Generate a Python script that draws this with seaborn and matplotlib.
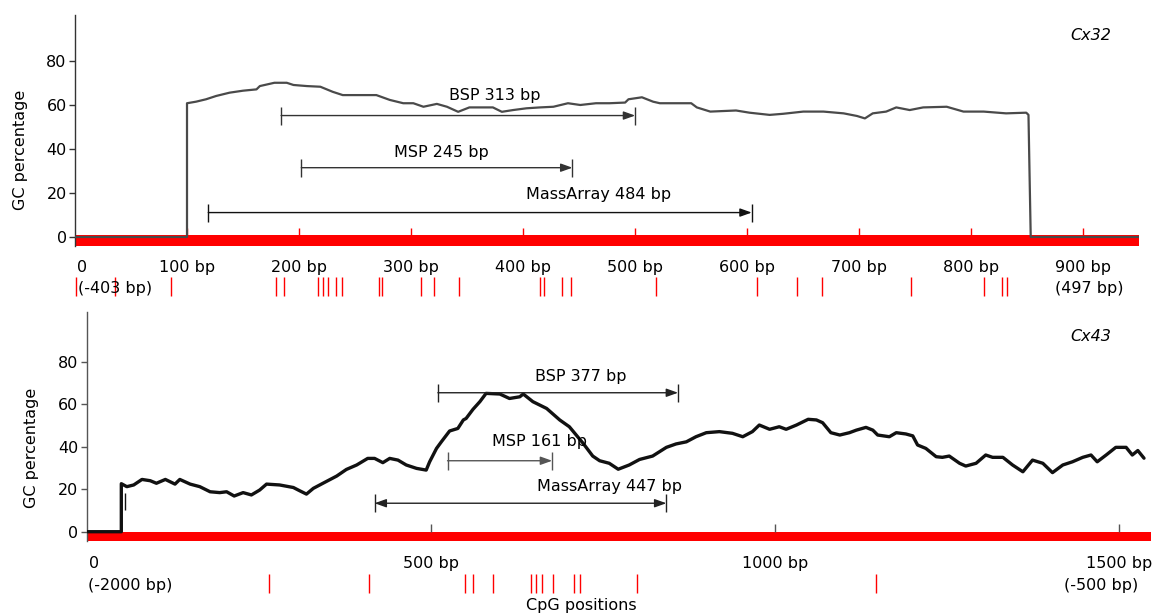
import numpy as np
import pandas as pd
import matplotlib
matplotlib.use("Agg")
import matplotlib.pyplot as plt
import seaborn as sns

# ---------------- data ----------------
# Cx32 GC percentage profile (position in bp, GC %)
cx32_bp = [0, 100, 100, 108, 117, 126, 138, 150, 162, 165, 178, 189, 195, 207, 219, 230,
           239, 257, 269, 281, 293, 302, 311, 323, 332, 342, 352, 373, 381, 391, 403, 415,
           427, 440, 451, 465, 477, 491, 494, 506, 516, 522, 550, 555, 567, 590, 602, 620,
           632, 650, 668, 686, 698, 705, 712, 724, 733, 745, 757, 778, 793, 811, 831, 849,
           851, 852, 853, 950]
cx32_gc = [0, 0, 60.8, 61.5, 62.6, 64.1, 65.6, 66.5, 67.1, 68.6, 70.1, 70.1, 69.1, 68.6, 68.3, 66.0,
           64.5, 64.5, 64.5, 62.3, 60.8, 60.8, 59.2, 60.5, 59.2, 56.9, 58.9, 58.9, 56.9, 57.7, 58.5, 58.9,
           59.2, 60.8, 60.0, 60.8, 60.8, 61.1, 62.6, 63.5, 61.5, 60.8, 60.8, 58.9, 57.0, 57.5, 56.5, 55.5,
           56.0, 57.0, 57.0, 56.2, 55.0, 53.9, 56.2, 57.0, 58.9, 57.7, 58.9, 59.2, 57.0, 57.0, 56.2, 56.5,
           55.5, 27.4, 0, 0]
cx32_cpg = [1, 36, 86, 179, 187, 217, 221, 226, 233, 238, 271, 274, 309, 320, 343,
            415, 419, 435, 443, 519, 609, 644, 667, 746, 811, 827, 832]
cx32_ticks = [100, 200, 300, 400, 500, 600, 700, 800, 900]
cx32_tick_labels = ["0", "100 bp", "200 bp", "300 bp", "400 bp", "500 bp",
                    "600 bp", "700 bp", "800 bp", "900 bp"]
cx32_ends = ["(-403 bp)", "(497 bp)"]
cx32_amp_names = ["BSP 313 bp", "MSP 245 bp", "MassArray 484 bp"]
cx32_amp_start = [184, 202, 119]
cx32_amp_end = [500, 444, 604]
cx32_amp_level = [55.2, 31.5, 11.1]

# Cx43 GC percentage profile
cx43_bp = [0, 50, 50, 58, 68, 80, 92, 101, 114, 128, 135, 150, 164, 179, 193, 203, 214, 227,
           239, 251, 261, 280, 300, 309, 319, 329, 343, 363, 377, 392, 408, 418, 430, 440, 452,
           464, 479, 493, 498, 508, 515, 527, 539, 547, 551, 561, 571, 580, 600, 614, 629, 634,
           648, 668, 687, 701, 721, 735, 745, 759, 772, 788, 803, 822, 842, 856, 871, 885, 900,
           919, 938, 953, 967, 977, 992, 1006, 1016, 1031, 1048, 1060, 1069, 1081, 1094, 1108,
           1118, 1132, 1142, 1149, 1166, 1176, 1190, 1200, 1207, 1219, 1234, 1243, 1253, 1268,
           1277, 1292, 1306, 1316, 1331, 1345, 1360, 1374, 1389, 1403, 1418, 1432, 1447, 1459,
           1468, 1481, 1495, 1510, 1519, 1527, 1536]
cx43_gc = [0, 0, 22.6, 21.2, 22.0, 24.6, 24.0, 22.8, 24.6, 22.4, 24.6, 22.4, 21.2, 18.8, 18.4, 18.8, 16.8, 18.4,
           17.3, 19.6, 22.4, 22.0, 20.8, 19.3, 17.7, 20.4, 22.8, 26.2, 29.3, 31.4, 34.5, 34.5, 32.5, 34.5, 33.7,
           31.4, 29.8, 29.0, 32.9, 39.2, 42.3, 47.4, 48.6, 52.6, 53.3, 57.6, 61.2, 65.1, 64.8, 62.7, 63.5, 64.8,
           61.2, 58.0, 52.6, 49.4, 41.6, 35.6, 33.4, 32.2, 29.4, 31.4, 34.0, 35.6, 39.7, 41.3, 42.3, 44.7, 46.6,
           47.1, 46.3, 44.7, 47.1, 50.2, 48.2, 49.4, 48.2, 50.2, 52.9, 52.6, 51.3, 46.6, 45.5, 46.6,
           47.8, 49.1, 47.8, 45.5, 44.7, 46.6, 46.0, 45.1, 40.8, 39.2, 35.3, 35.0, 35.6, 32.2,
           30.9, 32.2, 36.1, 35.0, 35.0, 31.4, 28.2, 33.7, 32.2, 27.8, 31.4, 32.9, 35.0, 36.1,
           32.9, 36.1, 39.7, 39.7, 36.1, 38.2, 34.6]
cx43_cpg = [264, 410, 550, 561, 590, 645, 652, 661, 677, 708, 716, 799, 1146]
cx43_mark = [55]
cx43_ticks = [500, 1000, 1500]
cx43_tick_labels = ["0", "500 bp", "1000 bp", "1500 bp"]
cx43_ends = ["(-2000 bp)", "(-500 bp)"]
cx43_amp_names = ["BSP 377 bp", "MSP 161 bp", "MassArray 447 bp"]
cx43_amp_start = [510, 524, 418]
cx43_amp_end = [859, 676, 842]
cx43_amp_level = [65.4, 33.4, 13.4]

# ---------------- style ----------------
sns.set_style("white")
plt.rcParams['font.family'] = ['DejaVu Sans']
plt.rcParams['text.color'] = 'black'
plt.rcParams['axes.labelcolor'] = 'black'
plt.rcParams['xtick.color'] = 'black'
plt.rcParams['ytick.color'] = 'black'
FS = 11.5

fig = plt.figure(figsize=(11.55, 6.14), dpi=100)
ax1 = fig.add_axes([0.0649, 0.5997, 0.9216, 0.3762])
ax2 = fig.add_axes([0.07524, 0.1188, 0.9212, 0.3734])


def base(ax, xlim, ylim, spine_color):
    ax.set_xlim(*xlim)
    ax.set_ylim(*ylim)
    for s in ["top", "right", "bottom"]:
        ax.spines[s].set_visible(False)
    ax.spines["left"].set_color(spine_color)
    ax.spines["left"].set_linewidth(1.0)
    ax.set_xticks([])
    ax.set_yticks([0, 20, 40, 60, 80])
    ax.tick_params(axis="y", length=4, width=1, color=spine_color, pad=2,
                   labelsize=FS, labelcolor="black", left=True)
    ax.set_xlabel("")


def amplicons(ax, starts, ends, levels, colors, styles):
    for s, e, lv, c, st in zip(starts, ends, levels, colors, styles):
        ax.annotate("", xy=(e, lv), xytext=(s, lv),
                    arrowprops=dict(arrowstyle=st + ",head_length=0.7,head_width=0.25",
                                    color=c, lw=1.0, shrinkA=0, shrinkB=0,
                                    mutation_scale=10))
        ax.plot([s, e], [lv, lv], ls="none", marker="|", ms=13.5, mew=1.0, color=c)


# ---------- top panel: Cx32 ----------
ax = ax1
base(ax, (0, 950), (-4, 101), "#333333")
ax.axhspan(-4, 0.9, color="#ff0000", lw=0, zorder=1)
ax.vlines(cx32_ticks, 0.9, 4.0, color="#ff0000", lw=1.0, zorder=1)
df32 = pd.DataFrame({"bp": cx32_bp, "gc": cx32_gc})
sns.lineplot(data=df32, x="bp", y="gc", ax=ax, estimator=None, sort=False,
             color="#4a4a4a", lw=1.6, zorder=3)
ax.set_xlabel("")
ax.set_ylabel("GC percentage", fontsize=FS, color="black")
ax.yaxis.set_label_coords(-0.0509, 0.415)
ax.yaxis.label.set_va("center")
amplicons(ax, cx32_amp_start, cx32_amp_end, cx32_amp_level,
          ["#333333", "#333333", "#111111"], ["-|>", "-|>", "-|>"])
ax.text(375, 64.5, cx32_amp_names[0], fontsize=FS, ha="center", va="center")
ax.text(327, 38.3, cx32_amp_names[1], fontsize=FS, ha="center", va="center")
ax.text(467, 19.3, cx32_amp_names[2], fontsize=FS, ha="center", va="center")
ax.text(907, 91.8, "Cx32", fontsize=FS, style="italic", ha="center", va="center")

tr = ax.get_xaxis_transform()
ax.text(1.5, -0.092, cx32_tick_labels[0], transform=tr, fontsize=FS, ha="left", va="center")
for t, lab in zip(cx32_ticks, cx32_tick_labels[1:]):
    ax.text(t, -0.092, lab, transform=tr, fontsize=FS, ha="center", va="center")
ax.text(3, -0.186, cx32_ends[0], transform=tr, fontsize=FS, ha="left", va="center")
ax.text(905, -0.186, cx32_ends[1], transform=tr, fontsize=FS, ha="center", va="center")
ax.vlines(cx32_cpg, -0.135, -0.2175, transform=tr, color="#ff0000", lw=1.0, clip_on=False)

# ---------- bottom panel: Cx43 ----------
ax = ax2
base(ax, (0, 1546), (-4.4, 103.5), "#555555")
ax.axhspan(-4.4, -0.3, color="#ff0000", lw=0, zorder=1)
ax.vlines(cx43_ticks, -0.3, 3.6, color="#555555", lw=1.0, zorder=1)
df43 = pd.DataFrame({"bp": cx43_bp, "gc": cx43_gc})
sns.lineplot(data=df43, x="bp", y="gc", ax=ax, estimator=None, sort=False,
             color="#111111", lw=2.4, zorder=3)
ax.vlines(cx43_mark, 10.2, 18.0, color="#111111", lw=1.0)
ax.set_xlabel("")
ax.set_ylabel("GC percentage", fontsize=FS, color="black")
ax.yaxis.set_label_coords(-0.0522, 0.408)
ax.yaxis.label.set_va("center")
amplicons(ax, cx43_amp_start, cx43_amp_end, cx43_amp_level,
          ["#222222", "#555555", "#222222"], ["-|>", "-|>", "<|-|>"])
ax.text(717, 72.9, cx43_amp_names[0], fontsize=FS, ha="center", va="center")
ax.text(658, 42.4, cx43_amp_names[1], fontsize=FS, ha="center", va="center")
ax.text(760, 21.2, cx43_amp_names[2], fontsize=FS, ha="center", va="center")
ax.text(1459, 91.8, "Cx43", fontsize=FS, style="italic", ha="center", va="center")

tr = ax.get_xaxis_transform()
ax.text(2.5, -0.097, cx43_tick_labels[0], transform=tr, fontsize=FS, ha="left", va="center")
for t, lab in zip(cx43_ticks, cx43_tick_labels[1:]):
    ax.text(t, -0.097, lab, transform=tr, fontsize=FS, ha="center", va="center")
ax.text(1, -0.192, cx43_ends[0], transform=tr, fontsize=FS, ha="left", va="center")
ax.text(1474, -0.192, cx43_ends[1], transform=tr, fontsize=FS, ha="center", va="center")
ax.vlines(cx43_cpg, -0.144, -0.227, transform=tr, color="#ff0000", lw=1.0, clip_on=False)
ax.text(718, -0.279, "CpG positions", transform=tr, fontsize=FS, ha="center", va="center")

fig.savefig("out.png", dpi=100)
